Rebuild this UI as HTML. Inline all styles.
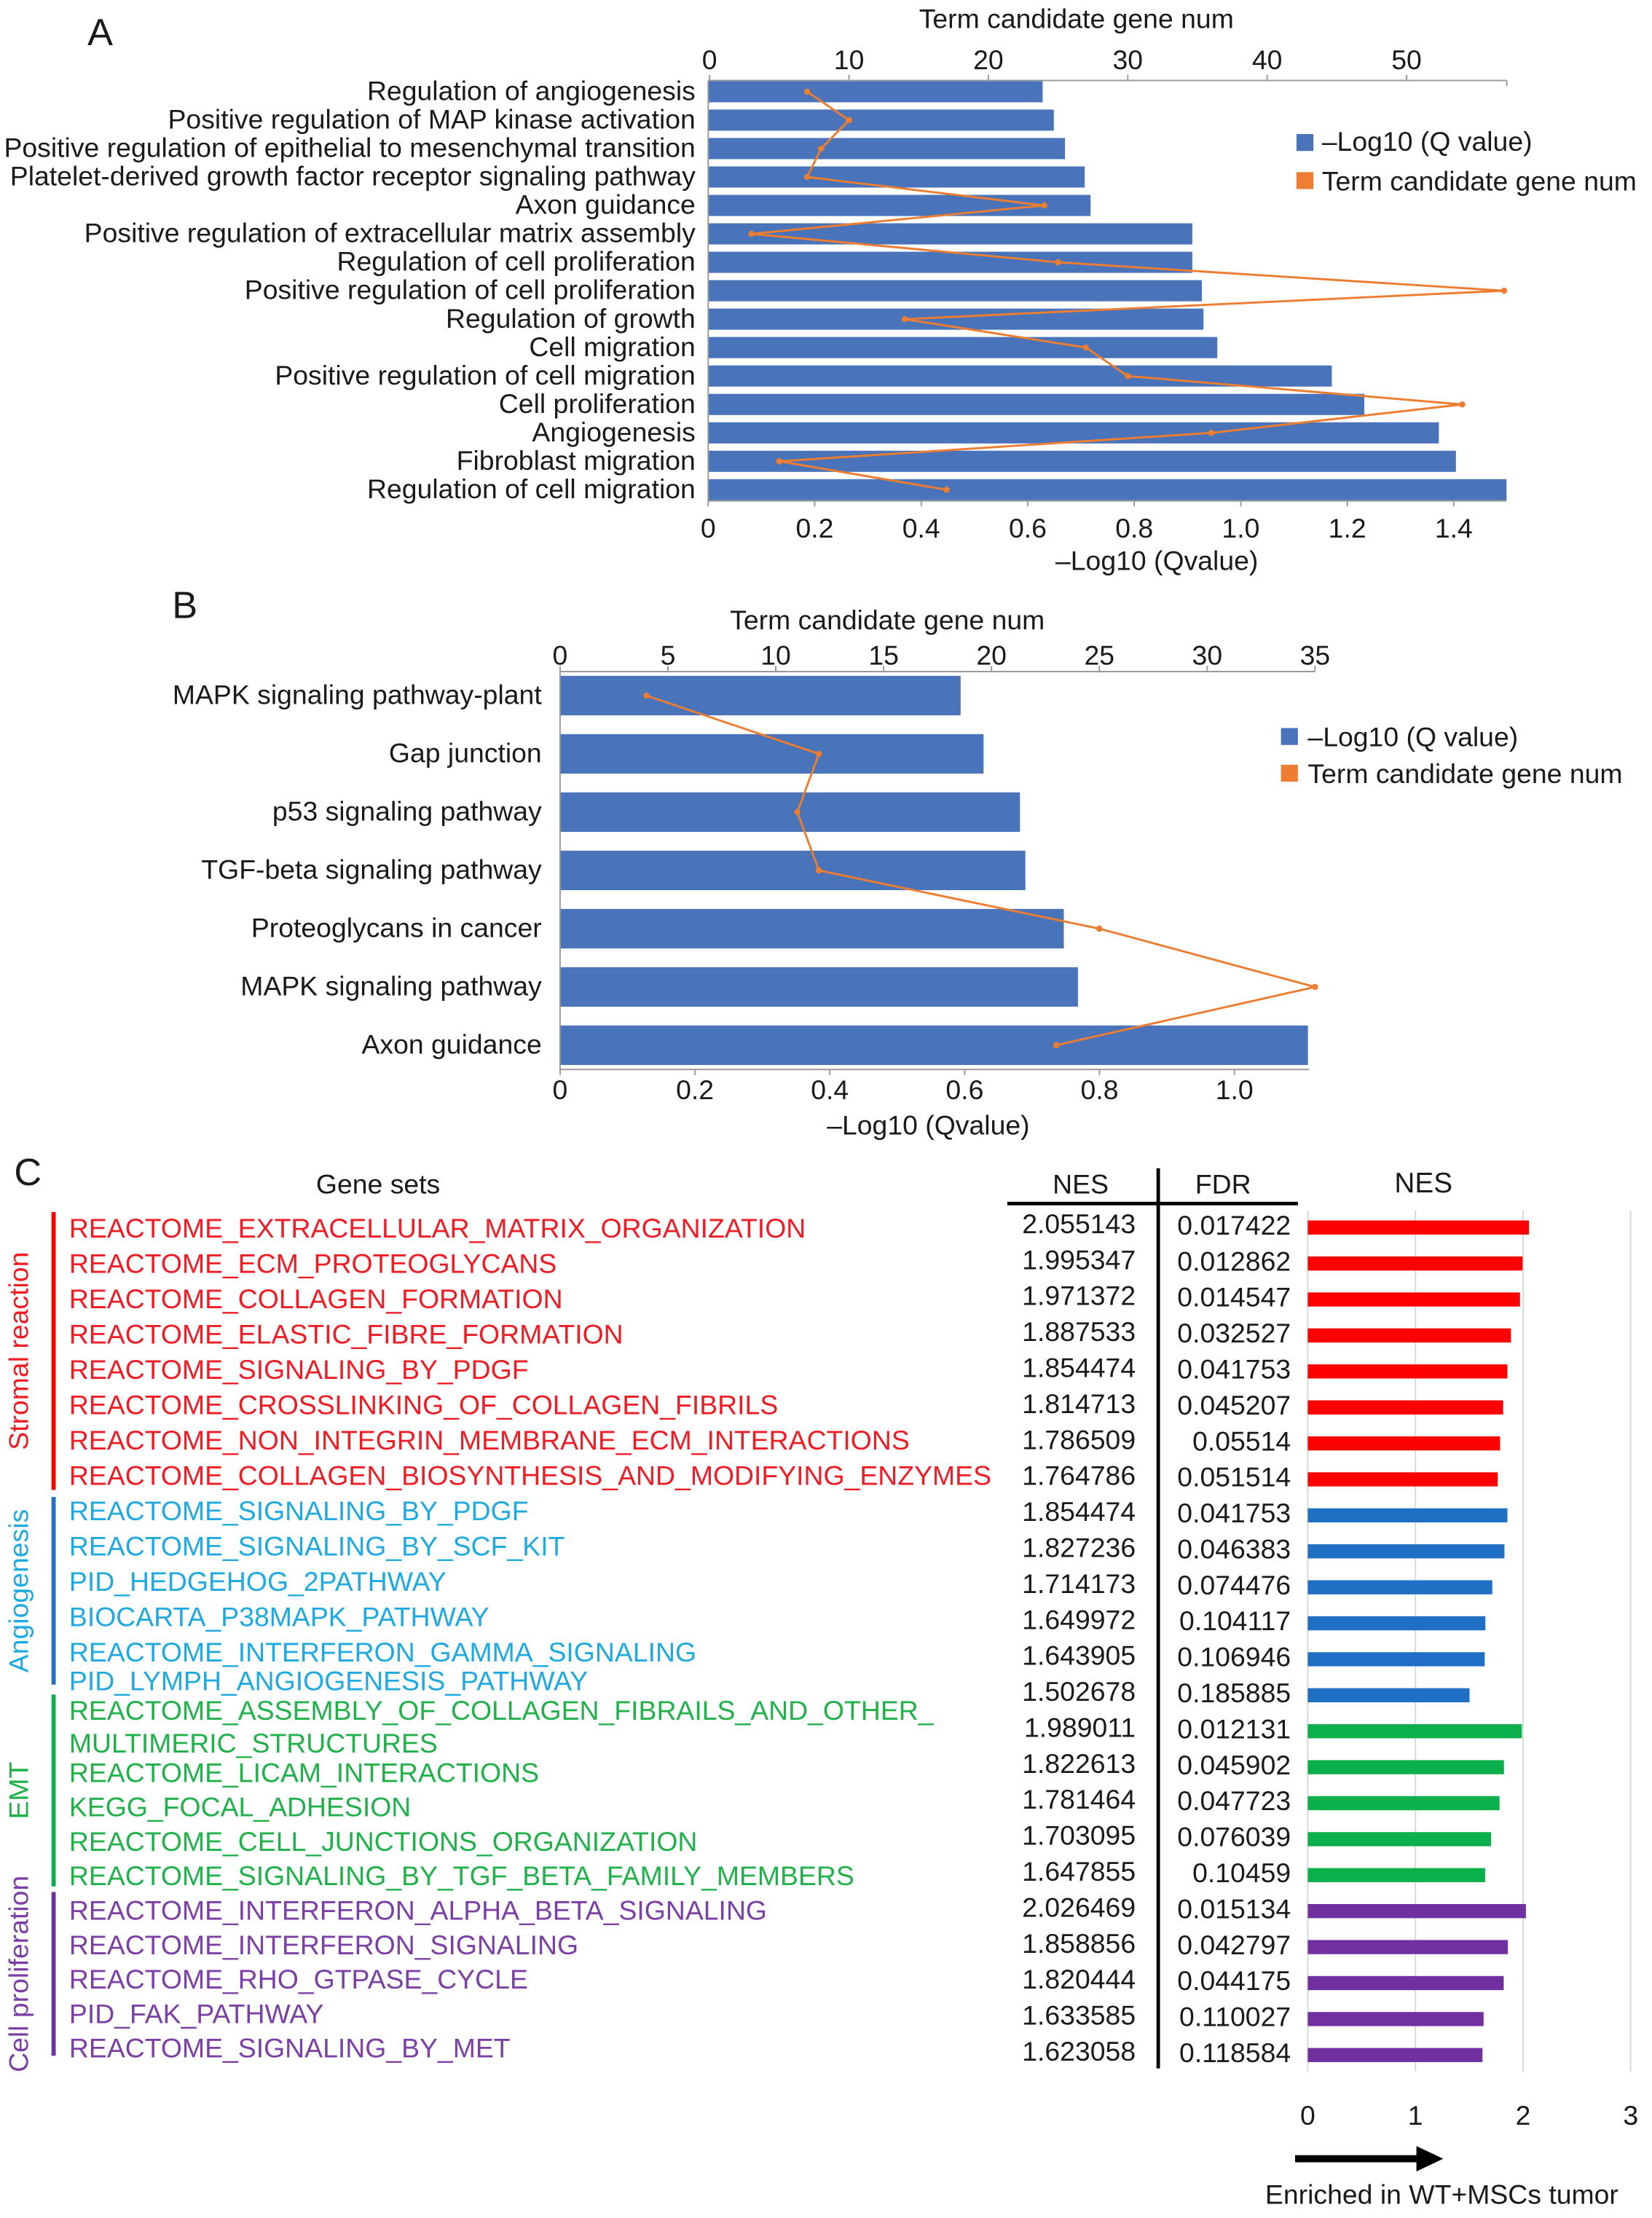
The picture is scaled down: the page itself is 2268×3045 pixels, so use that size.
<!DOCTYPE html>
<html><head><meta charset="utf-8"><style>
html,body{margin:0;padding:0;background:#fff}
svg{display:block}
text{font-family:"Liberation Sans",Arial,sans-serif;fill:#1a1a1a}
</style></head><body>
<svg id="s" width="2268" height="3045" viewBox="0 0 1171 1572" preserveAspectRatio="none" xmlns="http://www.w3.org/2000/svg">
<g id="gA"></g>
<g id="gB"></g>
<g id="gC"></g>
</svg>
<script>
// Panel A data
const aTerms=["Regulation of angiogenesis","Positive regulation of MAP kinase activation","Positive regulation of epithelial to mesenchymal transition","Platelet-derived growth factor receptor signaling pathway","Axon guidance","Positive regulation of extracellular matrix assembly","Regulation of cell proliferation","Positive regulation of cell proliferation","Regulation of growth","Cell migration","Positive regulation of cell migration","Cell proliferation","Angiogenesis","Fibroblast migration","Regulation of cell migration"];
const aQ=[0.628,0.649,0.670,0.707,0.718,0.909,0.909,0.927,0.930,0.956,1.171,1.232,1.372,1.404,1.499];
const aNum=[7,10,8,7,24,3,25,57,14,27,30,54,36,5,17];
const aBottomTicks=[0,0.2,0.4,0.6,0.8,1.0,1.2,1.4];
const aTopTicks=[0,10,20,30,40,50];
// Panel B data
const bTerms=["MAPK signaling pathway-plant","Gap junction","p53 signaling pathway","TGF-beta signaling pathway","Proteoglycans in cancer","MAPK signaling pathway","Axon guidance"];
const bQ=[0.594,0.628,0.682,0.690,0.747,0.768,1.109];
const bNum=[4,12,11,12,25,35,23];
const bBottomTicks=[0,0.2,0.4,0.6,0.8,1.0];
const bTopTicks=[0,5,10,15,20,25,30,35];
// Panel C data
const cSets=["REACTOME_EXTRACELLULAR_MATRIX_ORGANIZATION","REACTOME_ECM_PROTEOGLYCANS","REACTOME_COLLAGEN_FORMATION","REACTOME_ELASTIC_FIBRE_FORMATION","REACTOME_SIGNALING_BY_PDGF","REACTOME_CROSSLINKING_OF_COLLAGEN_FIBRILS","REACTOME_NON_INTEGRIN_MEMBRANE_ECM_INTERACTIONS","REACTOME_COLLAGEN_BIOSYNTHESIS_AND_MODIFYING_ENZYMES","REACTOME_SIGNALING_BY_PDGF","REACTOME_SIGNALING_BY_SCF_KIT","PID_HEDGEHOG_2PATHWAY","BIOCARTA_P38MAPK_PATHWAY","REACTOME_INTERFERON_GAMMA_SIGNALING","PID_LYMPH_ANGIOGENESIS_PATHWAY","REACTOME_ASSEMBLY_OF_COLLAGEN_FIBRAILS_AND_OTHER_|MULTIMERIC_STRUCTURES","REACTOME_LICAM_INTERACTIONS","KEGG_FOCAL_ADHESION","REACTOME_CELL_JUNCTIONS_ORGANIZATION","REACTOME_SIGNALING_BY_TGF_BETA_FAMILY_MEMBERS","REACTOME_INTERFERON_ALPHA_BETA_SIGNALING","REACTOME_INTERFERON_SIGNALING","REACTOME_RHO_GTPASE_CYCLE","PID_FAK_PATHWAY","REACTOME_SIGNALING_BY_MET"];
const cNES=[2.055143,1.995347,1.971372,1.887533,1.854474,1.814713,1.786509,1.764786,1.854474,1.827236,1.714173,1.649972,1.643905,1.502678,1.989011,1.822613,1.781464,1.703095,1.647855,2.026469,1.858856,1.820444,1.633585,1.623058];
const cFDR=["0.017422","0.012862","0.014547","0.032527","0.041753","0.045207","0.05514","0.051514","0.041753","0.046383","0.074476","0.104117","0.106946","0.185885","0.012131","0.045902","0.047723","0.076039","0.10459","0.015134","0.042797","0.044175","0.110027","0.118584"];
const cGroup=[0,0,0,0,0,0,0,0,1,1,1,1,1,1,2,2,2,2,2,3,3,3,3,3];
const cGroupNames=["Stromal reaction","Angiogenesis","EMT","Cell proliferation"];
const cTicks=[0,1,2,3];

const NS="http://www.w3.org/2000/svg";
function mk(p,tag,at,txt){const e=document.createElementNS(NS,tag);for(const k in at)e.setAttribute(k,at[k]);if(txt!==undefined)e.textContent=txt;p.appendChild(e);return e;}
const BLUE="#4a74b9",ORANGE="#ed7d31";
const FS=19.3;

// ---- Panel A ----
(function(){
const g=document.getElementById('gA');
const x0=502,sx=377.5,tx0=503,tsx=9.88,y0=65,dy=20.15,bh=15;
const X=v=>x0+v*sx, TX=v=>tx0+v*tsx, Y=i=>y0+i*dy;
let t=mk(g,'text',{x:62,y:32,'font-size':27},'A');
aTerms.forEach((s,i)=>{
 let b=mk(g,'rect',{x:x0,y:Y(i)-bh/2,width:X(aQ[i])-x0,height:bh,fill:BLUE});
 
 let l=mk(g,'text',{x:493,y:Y(i)+6,'font-size':FS,'text-anchor':'end'},s);
 
});
mk(g,'line',{x1:x0,y1:57,x2:1068,y2:57,stroke:'#999','stroke-width':1});
mk(g,'line',{x1:x0,y1:355,x2:1068,y2:355,stroke:'#999','stroke-width':1});
mk(g,'line',{x1:x0,y1:57,x2:x0,y2:355,stroke:'#999','stroke-width':1});
mk(g,'line',{x1:1068,y1:57,x2:1068,y2:61,stroke:'#999'});
aBottomTicks.forEach(v=>{mk(g,'line',{x1:X(v),y1:355,x2:X(v),y2:359,stroke:'#999'});
 let e=mk(g,'text',{x:X(v),y:381,'font-size':FS,'text-anchor':'middle'},v===0?'0':v.toFixed(1));});
aTopTicks.forEach(v=>{mk(g,'line',{x1:TX(v),y1:53,x2:TX(v),y2:57,stroke:'#999'});
 let e=mk(g,'text',{x:TX(v),y:49,'font-size':FS,'text-anchor':'middle'},String(v));});
let a1=mk(g,'text',{x:763,y:20,'font-size':FS,'text-anchor':'middle'},'Term candidate gene num');
let a2=mk(g,'text',{x:820,y:404,'font-size':FS,'text-anchor':'middle'},'\u2013Log10 (Qvalue)');
let pts=aNum.map((v,i)=>TX(v)+','+Y(i)).join(' ');
let pl=mk(g,'polyline',{points:pts,fill:'none',stroke:ORANGE,'stroke-width':1.5});
aNum.forEach((v,i)=>{let c=mk(g,'circle',{cx:TX(v),cy:Y(i),r:2.2,fill:ORANGE});});
let lg=mk(g,'g',{});
mk(lg,'rect',{x:919,y:95,width:12,height:12,fill:BLUE});mk(lg,'text',{x:937,y:107,'font-size':FS},'\u2013Log10 (Q value)');
mk(lg,'rect',{x:919,y:122,width:12,height:12,fill:ORANGE});mk(lg,'text',{x:937,y:135,'font-size':FS},'Term candidate gene num');
})();

// ---- Panel B ----
(function(){
const g=document.getElementById('gB');
const x0=397,sx=478,tx0=397,tsx=15.29,y0=493,dy=41.3,bh=28;
const X=v=>x0+v*sx,TX=v=>tx0+v*tsx,Y=i=>y0+i*dy;
let t=mk(g,'text',{x:122,y:438,'font-size':27},'B');
bTerms.forEach((s,i)=>{
 let b=mk(g,'rect',{x:x0,y:Y(i)-bh/2,width:X(bQ[i])-x0,height:bh,fill:BLUE});
 let l=mk(g,'text',{x:384,y:Y(i)+6,'font-size':FS,'text-anchor':'end'},s);
});
mk(g,'line',{x1:x0,y1:476,x2:932,y2:476,stroke:'#999'});
mk(g,'line',{x1:x0,y1:758,x2:928,y2:758,stroke:'#999'});
mk(g,'line',{x1:x0,y1:476,x2:x0,y2:758,stroke:'#999'});
bBottomTicks.forEach(v=>{mk(g,'line',{x1:X(v),y1:758,x2:X(v),y2:762,stroke:'#999'});
 let e=mk(g,'text',{x:X(v),y:779,'font-size':FS,'text-anchor':'middle'},v===0?'0':v.toFixed(1));});
bTopTicks.forEach(v=>{mk(g,'line',{x1:TX(v),y1:472,x2:TX(v),y2:476,stroke:'#999'});
 let e=mk(g,'text',{x:TX(v),y:471,'font-size':FS,'text-anchor':'middle'},String(v));});
let a1=mk(g,'text',{x:629,y:446,'font-size':FS,'text-anchor':'middle'},'Term candidate gene num');
let a2=mk(g,'text',{x:658,y:804,'font-size':FS,'text-anchor':'middle'},'\u2013Log10 (Qvalue)');
let pl=mk(g,'polyline',{points:bNum.map((v,i)=>TX(v)+','+Y(i)).join(' '),fill:'none',stroke:ORANGE,'stroke-width':1.5});
bNum.forEach((v,i)=>{let c=mk(g,'circle',{cx:TX(v),cy:Y(i),r:2.2,fill:ORANGE});});
let lg=mk(g,'g',{});
mk(lg,'rect',{x:908,y:516,width:12,height:12,fill:BLUE});mk(lg,'text',{x:927,y:529,'font-size':FS},'\u2013Log10 (Q value)');
mk(lg,'rect',{x:908,y:542,width:12,height:12,fill:ORANGE});mk(lg,'text',{x:927,y:555,'font-size':FS},'Term candidate gene num');
})();

// ---- Panel C ----
(function(){
const g=document.getElementById('gC');
const txtCol=["#ee1c25","#1fa9e1","#21b14b","#7b3fa6"];
const barCol=["#ff0000","#1f6fc4","#0cb04a","#7030a0"];
const x0=927,sx=76.3,y0=868,dy=25.5,bh=10;
const X=v=>x0+v*sx,Y=i=>y0+i*dy;
// label row centres (layout)
const labelY=i=> i<=12 ? 871+i*25.05 : (i===13?1192:(i===14?1213:1257+(i-15)*24.4));
let t=mk(g,'text',{x:10,y:840,'font-size':27},'C');
let h;
h=mk(g,'text',{x:268,y:846,'font-size':FS,'text-anchor':'middle'},'Gene sets');
h=mk(g,'text',{x:766,y:846,'font-size':FS,'text-anchor':'middle'},'NES');
h=mk(g,'text',{x:867,y:846,'font-size':FS,'text-anchor':'middle'},'FDR');
h=mk(g,'text',{x:1009,y:845,'font-size':20,'text-anchor':'middle'},'NES');
mk(g,'line',{x1:714,y1:853,x2:920,y2:853,stroke:'#000','stroke-width':2.5});
mk(g,'line',{x1:821,y1:828,x2:821,y2:1466,stroke:'#000','stroke-width':2.5});
cTicks.forEach(v=>{
 mk(g,'line',{x1:X(v),y1:858,x2:X(v),y2:1468,stroke:'#d8d8d8','stroke-width':1});
 let e=mk(g,'text',{x:X(v),y:1506,'font-size':FS,'text-anchor':'middle'},String(v));
});
cSets.forEach((s,i)=>{
 const gr=cGroup[i];
 const parts=s.split('|');
 const yy=labelY(i)+6;
 let l=mk(g,'text',{x:49,y:yy,'font-size':FS,style:'fill:'+txtCol[gr]},parts[0]);
 
 if(parts[1]){let l2=mk(g,'text',{x:49,y:yy+23,'font-size':FS,style:'fill:'+txtCol[gr]},parts[1]);}
 let n=mk(g,'text',{x:805,y:Y(i)+6,'font-size':FS,'text-anchor':'end'},cNES[i].toFixed(6).replace(/0+$/,''));
 let f=mk(g,'text',{x:915,y:Y(i)+7,'font-size':FS,'text-anchor':'end'},cFDR[i]);
 let b=mk(g,'rect',{x:x0,y:Y(i)+2-bh/2,width:X(cNES[i])-x0,height:bh,fill:barCol[gr]});
});
const spans=[[859,1056],[1061,1194],[1201,1337],[1341,1457]];
spans.forEach((sp,k)=>{
 let r=mk(g,'line',{x1:38,y1:sp[0],x2:38,y2:sp[1],stroke:barCol[k],'stroke-width':3});
 const cy=(sp[0]+sp[1])/2;
 let tl=mk(g,'text',{x:20,y:cy,'font-size':FS,'text-anchor':'middle',transform:'rotate(-90 20 '+cy+')',style:'fill:'+txtCol[k]},cGroupNames[k]);
 
});
let ar=mk(g,'g',{});
mk(ar,'line',{x1:918,y1:1530,x2:1008,y2:1530,stroke:'#000','stroke-width':5});
mk(ar,'polygon',{points:'1004,1521 1023,1530 1004,1539',fill:'#000'});
let en=mk(g,'text',{x:1022,y:1562,'font-size':FS,'text-anchor':'middle'},'Enriched in WT+MSCs tumor');
})();
</script>
</body></html>
